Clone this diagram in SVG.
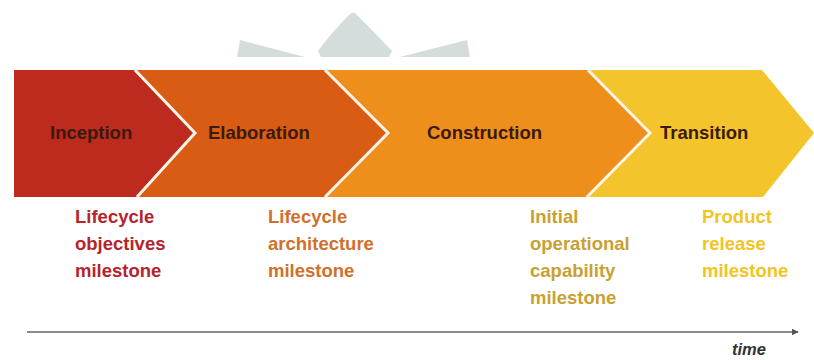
<svg xmlns="http://www.w3.org/2000/svg" width="814" height="360" viewBox="0 0 814 360">
  <style>
    .phase { font-family: "Liberation Sans", Arial, sans-serif; font-weight: bold; font-size: 18.5px; fill: #3a1a0c; }
    .ms { font-family: "Liberation Sans", Arial, sans-serif; font-weight: bold; font-size: 18.5px; }
    .sep { fill: none; stroke: #fff4e8; stroke-width: 3; stroke-linejoin: miter; }
    .wm { fill: #d5dcdc; }
  </style>
  <defs>
    <marker id="arr" viewBox="0 0 10 10" refX="9" refY="5" markerWidth="7" markerHeight="7" markerUnits="userSpaceOnUse" orient="auto">
      <path d="M0,0 L10,5 L0,10 z" fill="#555"/>
    </marker>
  </defs>
  <rect width="814" height="360" fill="#ffffff"/>

  <g id="watermark">
    <path class="wm" d="M237,57 L240,40 L305,57 Z"/>
    <path class="wm" d="M470,57 L467,40 L400,57 Z"/>
    <path class="wm" d="M321,57 L318,51 Q332,32 349,15 Q353,10 357,15 Q374,32 392,51 L389,57 Z"/>
  </g>

  <g id="transition">
    <polygon points="588,70 762,70 814,133 763,197 587,197 650,133" fill="#f3c42b"/>
    <text class="phase" x="660" y="139">Transition</text>
    <text class="ms" fill="#f2c41f"><tspan x="702" y="223">Product</tspan><tspan x="702" y="250">release</tspan><tspan x="702" y="277">milestone</tspan></text>
  </g>

  <g id="construction">
    <polygon points="325,70 588,70 650,133 587,197 325,197 388,133" fill="#ee8f1c"/>
    <polyline class="sep" points="588,70 650,133 587,197"/>
    <text class="phase" x="427" y="139">Construction</text>
    <text class="ms" fill="#c9a032"><tspan x="530" y="223">Initial</tspan><tspan x="530" y="250">operational</tspan><tspan x="530" y="277">capability</tspan><tspan x="530" y="304">milestone</tspan></text>
  </g>

  <g id="elaboration">
    <polygon points="135,70 325,70 388,133 325,197 137,197 195,133" fill="#d95c14"/>
    <polyline class="sep" points="325,70 388,133 325,197"/>
    <text class="phase" x="208" y="139">Elaboration</text>
    <text class="ms" fill="#d0702c"><tspan x="268" y="223">Lifecycle</tspan><tspan x="268" y="250">architecture</tspan><tspan x="268" y="277">milestone</tspan></text>
  </g>

  <g id="inception">
    <polygon points="14,70 135,70 195,133 137,197 14,197" fill="#bd2b1f"/>
    <polyline class="sep" points="135,70 195,133 137,197"/>
    <text class="phase" x="50" y="139">Inception</text>
    <text class="ms" fill="#b5242c"><tspan x="75" y="223">Lifecycle</tspan><tspan x="75" y="250">objectives</tspan><tspan x="75" y="277">milestone</tspan></text>
  </g>

  <g id="connectors">
    <line x1="27" y1="332" x2="798" y2="332" stroke="#666" stroke-width="1.5" marker-end="url(#arr)"/>
  </g>
  <text x="732" y="355" font-family="Liberation Sans, Arial, sans-serif" font-style="italic" font-weight="bold" font-size="16.5" fill="#333">time</text>
</svg>
